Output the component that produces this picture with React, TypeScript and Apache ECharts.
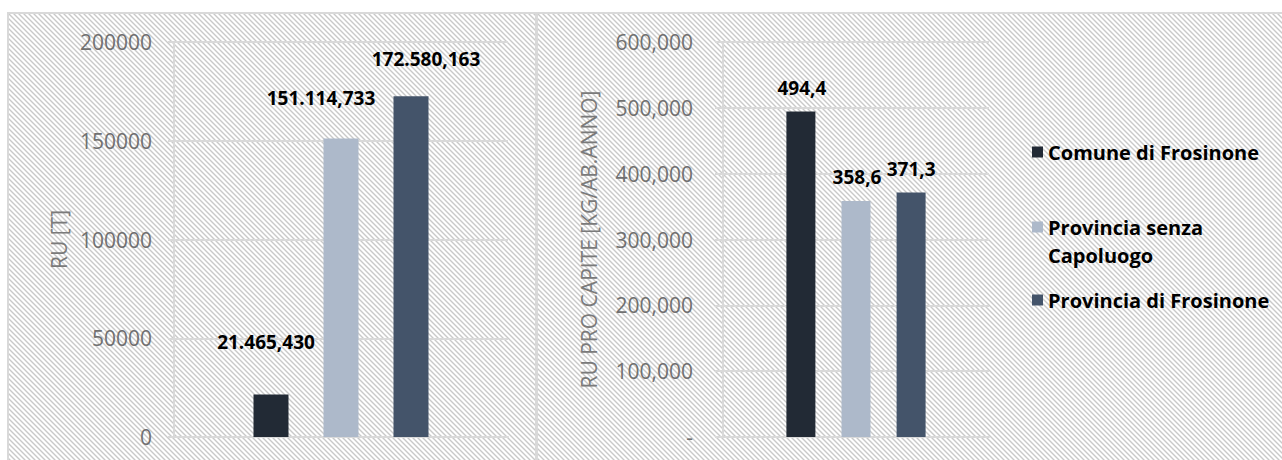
import React, { useEffect, useRef } from "react";
import * as echarts from "echarts";

// ---- data ----
const seriesNames = ["Comune di Frosinone", "Provincia senza Capoluogo", "Provincia di Frosinone"];
const legendLabels = ["Comune di Frosinone", " \nProvincia senza\nCapoluogo", "Provincia di Frosinone"];
const ruTonnes = [21465.43, 151114.733, 172580.163];
const ruProCapite = [494.4, 358.6, 371.3];
const leftAxisTitle = "RU [T]";
const rightAxisTitle = "RU PRO CAPITE [KG/AB.ANNO]";
const leftAxisMax = 200000;
const leftAxisStep = 50000;
const rightAxisMax = 600;
const rightAxisStep = 100;

// ---- styles ----
const barColors = ["#222a35", "#adb9ca", "#44546a"];
const leftLabelOffsets = [[-5, -38], [-20, -26], [15, -23]];
const rightLabelOffsets = [[1, -9], [1, -9], [0, -9]];
const FONT = "'Open Sans', sans-serif";
const GRID_COLOR = "#d9d9d9";

function fmtIt(v: number, d: number): string {
  const fixed = v.toFixed(d);
  const [intPart, dec] = fixed.split(".");
  const grouped = intPart.replace(/\B(?=(\d{3})+(?!\d))/g, ".");
  return dec ? grouped + "," + dec : grouped;
}

const tile =
  "<svg xmlns='http://www.w3.org/2000/svg' width='5' height='5'>" +
  "<rect width='5' height='5' fill='#ffffff'/>" +
  "<path d='M-1,-1 L6,6 M-1,4 L1,6 M4,-1 L6,1' stroke='#c9c9c9' stroke-width='1.4' fill='none'/>" +
  "</svg>";
const hatch = `url("data:image/svg+xml;utf8,${encodeURIComponent(tile)}")`;

export default function App() {
  const ref = useRef<HTMLDivElement>(null);

  useEffect(() => {
    if (!ref.current) return;
    const chart = echarts.init(ref.current, undefined, { renderer: "svg" });

    const yAxisCommon = (max: number, step: number, tickLen: number) => ({
      type: "value",
      min: 0,
      max,
      interval: step,
      axisLine: { show: true, lineStyle: { color: GRID_COLOR, width: 2 } },
      axisTick: { show: true, length: tickLen, lineStyle: { color: GRID_COLOR, width: 2 } },
      splitLine: { show: true, lineStyle: { color: GRID_COLOR, width: 2 } },
      nameLocation: "middle",
      nameRotate: 90,
      nameTextStyle: { color: "#7a7a7a", fontSize: 21, fontFamily: FONT },
    });

    const xAxisCommon = (gridIndex: number) => ({
      type: "category",
      gridIndex,
      data: [""],
      axisLine: { show: true, lineStyle: { color: GRID_COLOR, width: 2 } },
      axisTick: { show: false },
      axisLabel: { show: false },
      splitLine: { show: false },
    });

    const labelStyle = {
      show: true,
      position: "top",
      fontSize: 19,
      fontWeight: "bold",
      color: "#000000",
      fontFamily: FONT,
    };

    const leftSeries = seriesNames.map((name, i) => ({
      type: "bar",
      name,
      xAxisIndex: 0,
      yAxisIndex: 0,
      barWidth: 35,
      barGap: "100%",
      itemStyle: { color: barColors[i] },
      label: { ...labelStyle, formatter: (p: any) => fmtIt(p.value, 3) },
      data: [{ value: ruTonnes[i], label: { offset: leftLabelOffsets[i] } }],
    }));

    const rightSeries = seriesNames.map((name, i) => ({
      type: "bar",
      name,
      xAxisIndex: 1,
      yAxisIndex: 1,
      barWidth: 29,
      barGap: "90%",
      itemStyle: { color: barColors[i] },
      label: { ...labelStyle, formatter: (p: any) => fmtIt(p.value, 1) },
      data: [{ value: ruProCapite[i], label: { offset: rightLabelOffsets[i] } }],
    }));

    const legendTops = [138, 185, 286];
    const legends = seriesNames.map((name, i) => ({
      data: [name],
      left: 1032,
      top: legendTops[i],
      orient: "vertical",
      padding: 0,
      icon: "rect",
      itemWidth: 11,
      itemHeight: 11,
      selectedMode: false,
      formatter: () => legendLabels[i],
      textStyle: {
        fontSize: 20,
        fontWeight: "bold",
        color: "#000000",
        fontFamily: FONT,
        lineHeight: 28,
      },
    }));

    chart.setOption({
      animation: false,
      backgroundColor: "transparent",
      textStyle: { fontFamily: FONT },
      grid: [
        { left: 174, right: 774, top: 42, bottom: 23 },
        { left: 723, right: 293, top: 42, bottom: 23 },
      ],
      xAxis: [xAxisCommon(0), xAxisCommon(1)],
      yAxis: [
        {
          ...yAxisCommon(leftAxisMax, leftAxisStep, 6),
          gridIndex: 0,
          name: leftAxisTitle,
          nameGap: 105,
          axisLabel: {
            color: "#707070",
            fontSize: 21,
            fontFamily: FONT,
            margin: 22,
            formatter: (v: number) => String(v),
          },
        },
        {
          ...yAxisCommon(rightAxisMax, rightAxisStep, 8),
          gridIndex: 1,
          name: rightAxisTitle,
          nameGap: 124,
          axisLabel: {
            color: "#707070",
            fontSize: 21,
            fontFamily: FONT,
            margin: 30,
            formatter: (v: number) => (v === 0 ? "-" : fmtIt(v, 3)),
          },
        },
      ],
      legend: legends,
      series: [...leftSeries, ...rightSeries],
    });

    return () => chart.dispose();
  }, []);

  return (
    <div
      style={{
        position: "absolute",
        left: 0,
        top: 0,
        width: 1282,
        height: 460,
        overflow: "hidden",
        background: "#ffffff",
      }}
    >
      <div
        style={{
          position: "absolute",
          left: 7,
          top: 12,
          width: 526,
          height: 480,
          border: `2px solid ${GRID_COLOR}`,
          backgroundImage: hatch,
        }}
      />
      <div
        style={{
          position: "absolute",
          left: 536,
          top: 12,
          width: 780,
          height: 480,
          border: `2px solid ${GRID_COLOR}`,
          backgroundImage: hatch,
        }}
      />
      <div
        ref={ref}
        style={{ position: "absolute", left: 0, top: 0, width: 1282, height: 460 }}
      />
    </div>
  );
}
